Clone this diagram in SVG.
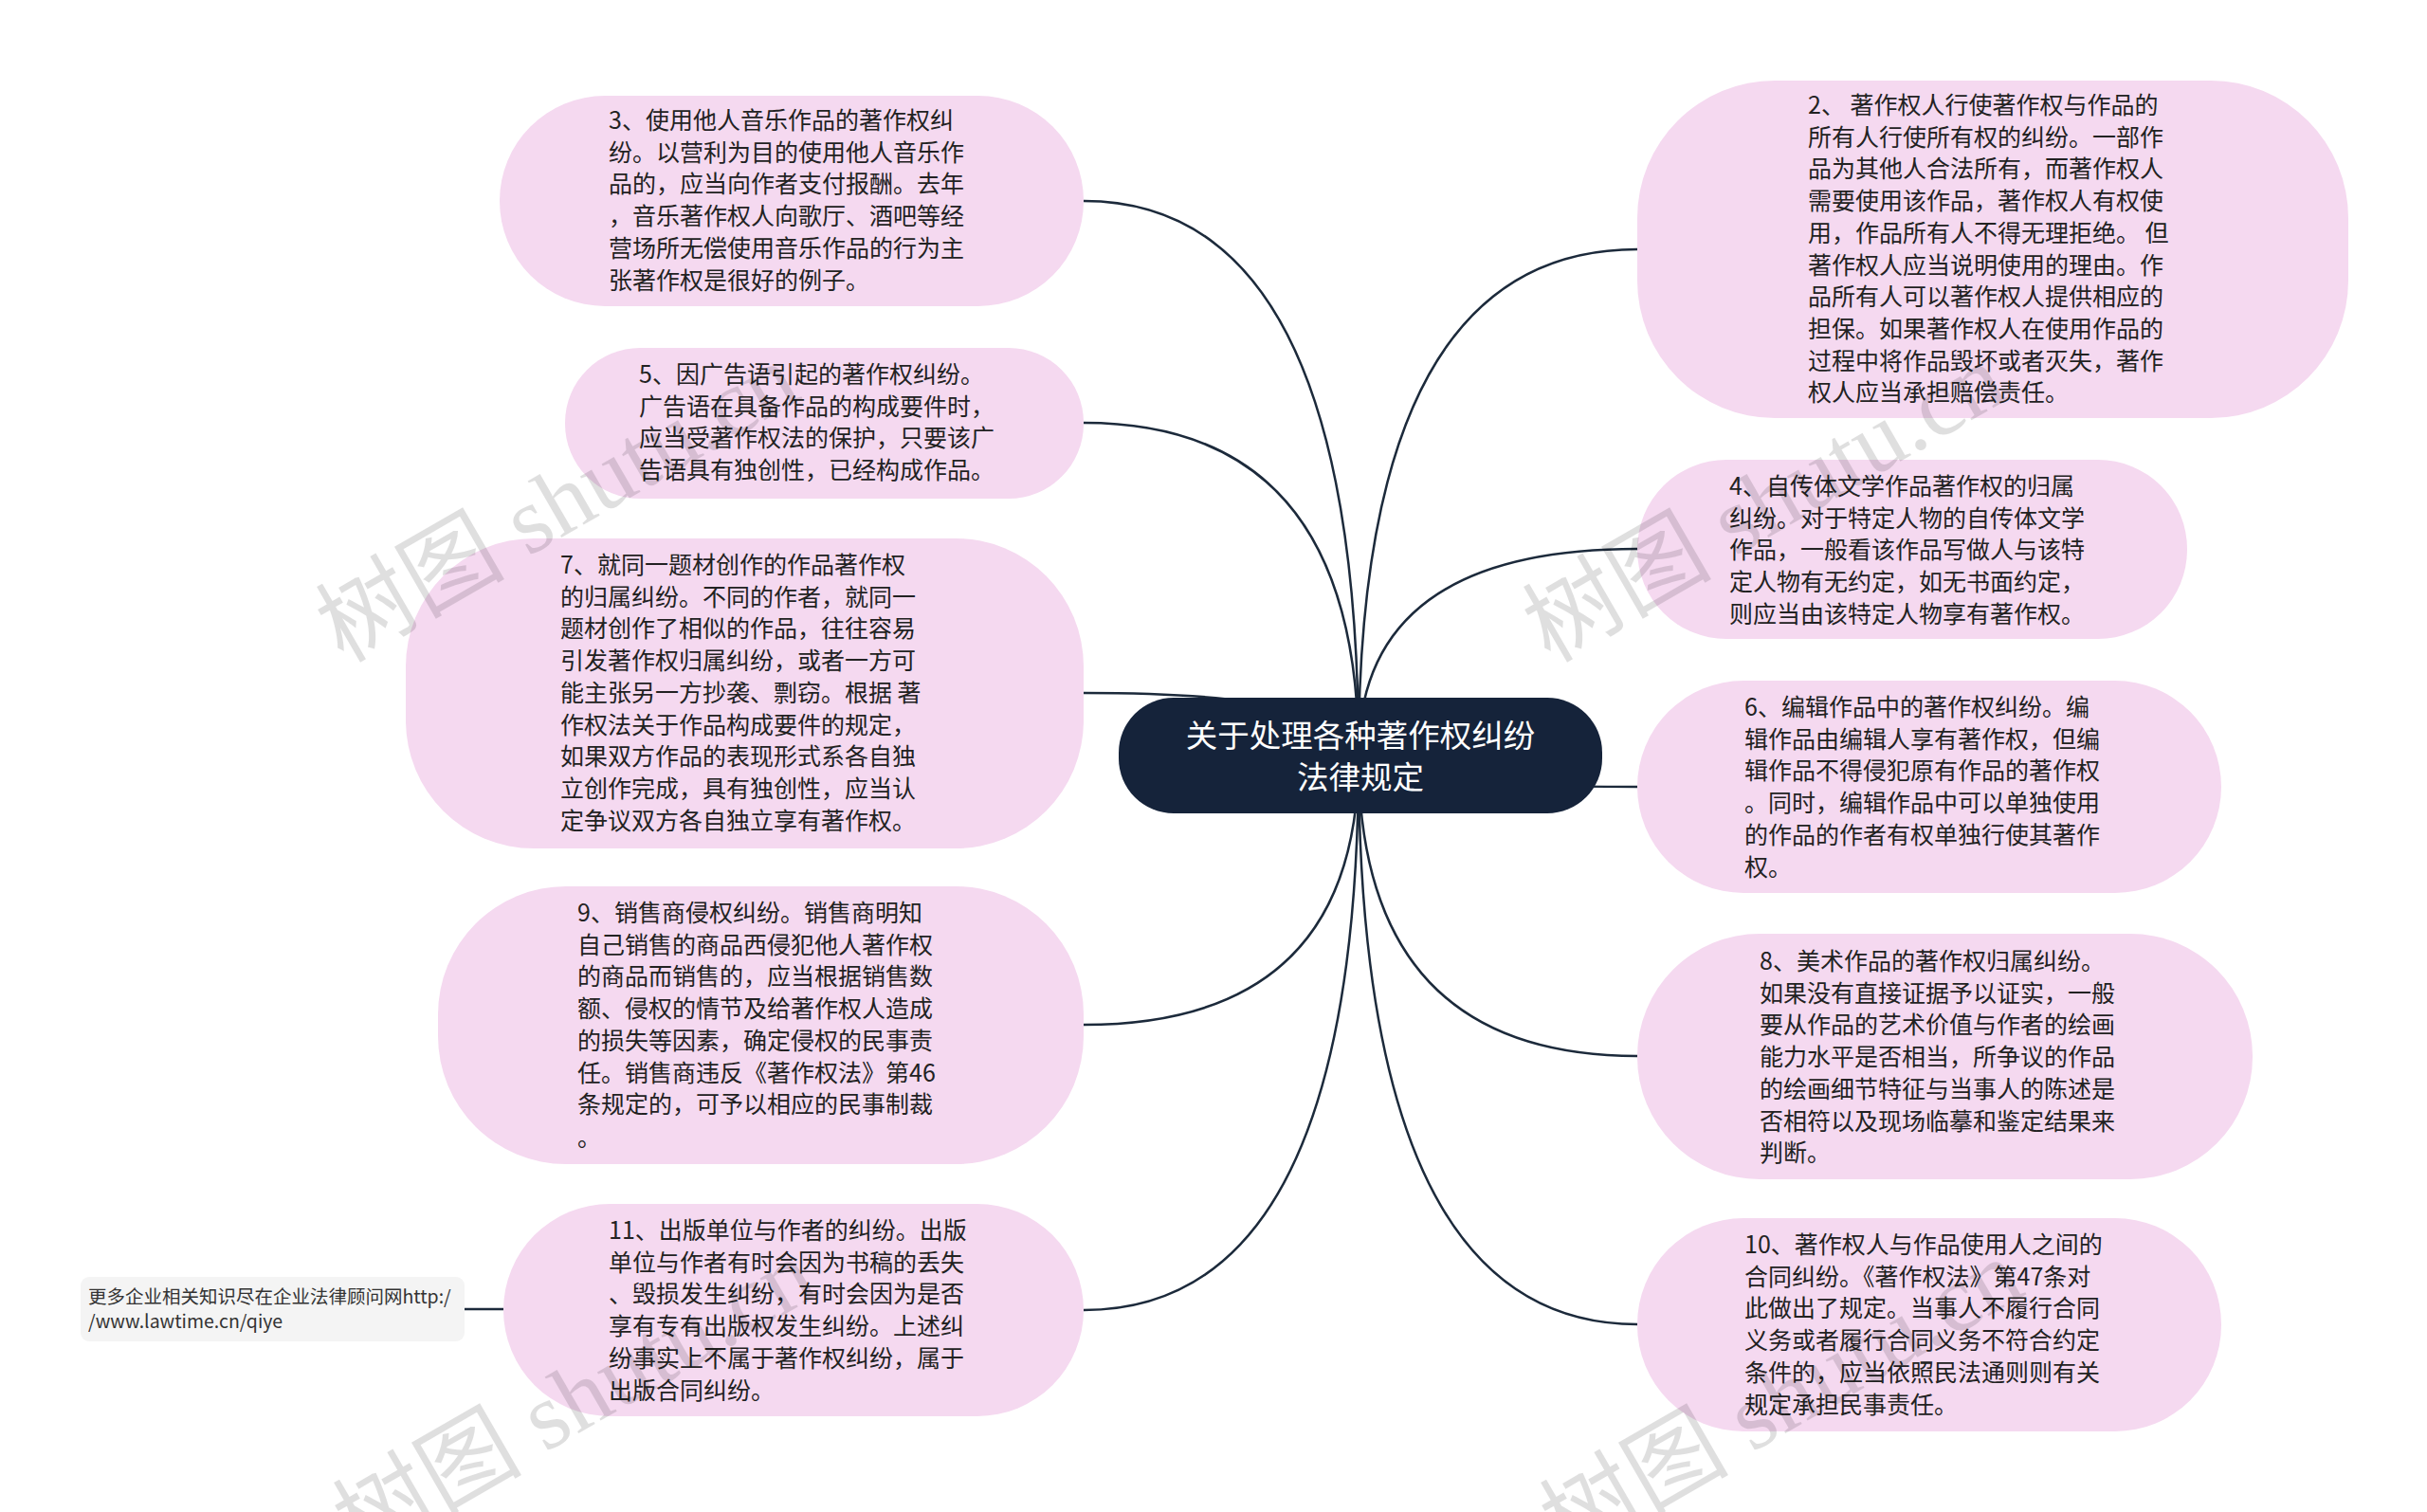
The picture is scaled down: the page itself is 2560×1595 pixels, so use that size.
<svg xmlns="http://www.w3.org/2000/svg" width="2560" height="1595" viewBox="0 0 2560 1595">
<style>
.pill{fill:#f5d9f0;}
.t{font-family:"Noto Sans CJK SC","Noto Sans",sans-serif;font-size:25px;fill:#222;}
.c{fill:none;stroke:#1c2a3b;stroke-width:2.5;}
.wm{font-family:"Liberation Serif","Noto Sans CJK SC",serif;font-size:100px;fill:#000;opacity:0.12;}
</style>
<rect width="2560" height="1595" fill="#fff"/>
<g id="connectors">
<path class="c" d="M1433 797 Q1433 212 1143 212"/>
<path class="c" d="M1433 797 Q1433 446 1143 446"/>
<path class="c" d="M1433 797 Q1433 731 1143 731"/>
<path class="c" d="M1433 797 Q1433 1081 1143 1081"/>
<path class="c" d="M1433 797 Q1433 1382 1143 1382"/>
<path class="c" d="M1433 797 Q1433 263 1727 263"/>
<path class="c" d="M1433 797 Q1433 579 1727 579"/>
<path class="c" d="M1433 797 Q1433 830 1727 830"/>
<path class="c" d="M1433 797 Q1433 1114 1727 1114"/>
<path class="c" d="M1433 797 Q1433 1397 1727 1397"/>
<path class="c" d="M490 1381 L531 1381"/>
</g>
<g id="center">
<rect x="1180" y="736" width="510" height="122" rx="58" fill="#15233a"/>
<text x="1435" y="788" text-anchor="middle" font-family="Noto Sans CJK SC,sans-serif" font-size="33.5" fill="#fff">关于处理各种著作权纠纷</text>
<text x="1435" y="832" text-anchor="middle" font-family="Noto Sans CJK SC,sans-serif" font-size="33.5" fill="#fff">法律规定</text>
</g>
<g id="n3">
<rect class="pill" x="527" y="101" width="616" height="222" rx="111"/>
<text class="t"><tspan x="642" y="136">3、使用他人音乐作品的著作权纠</tspan><tspan x="642" y="169.7">纷。以营利为目的使用他人音乐作</tspan><tspan x="642" y="203.4">品的，应当向作者支付报酬。去年</tspan><tspan x="642" y="237.1">，音乐著作权人向歌厅、酒吧等经</tspan><tspan x="642" y="270.8">营场所无偿使用音乐作品的行为主</tspan><tspan x="642" y="304.5">张著作权是很好的例子。</tspan></text>
</g>
<g id="n5">
<rect class="pill" x="596" y="367" width="547" height="159" rx="79"/>
<text class="t"><tspan x="674" y="404">5、因广告语引起的著作权纠纷。</tspan><tspan x="674" y="437.7">广告语在具备作品的构成要件时，</tspan><tspan x="674" y="471.4">应当受著作权法的保护，只要该广</tspan><tspan x="674" y="505.1">告语具有独创性，已经构成作品。</tspan></text>
</g>
<g id="n7">
<rect class="pill" x="428" y="568" width="715" height="327" rx="135"/>
<text class="t"><tspan x="591" y="605">7、就同一题材创作的作品著作权</tspan><tspan x="591" y="638.7">的归属纠纷。不同的作者，就同一</tspan><tspan x="591" y="672.4">题材创作了相似的作品，往往容易</tspan><tspan x="591" y="706.1">引发著作权归属纠纷，或者一方可</tspan><tspan x="591" y="739.8">能主张另一方抄袭、剽窃。根据 著</tspan><tspan x="591" y="773.5">作权法关于作品构成要件的规定，</tspan><tspan x="591" y="807.2">如果双方作品的表现形式系各自独</tspan><tspan x="591" y="840.9">立创作完成，具有独创性，应当认</tspan><tspan x="591" y="874.6">定争议双方各自独立享有著作权。</tspan></text>
</g>
<g id="n9">
<rect class="pill" x="462" y="935" width="681" height="293" rx="135"/>
<text class="t"><tspan x="609" y="972">9、销售商侵权纠纷。销售商明知</tspan><tspan x="609" y="1005.7">自己销售的商品西侵犯他人著作权</tspan><tspan x="609" y="1039.4">的商品而销售的，应当根据销售数</tspan><tspan x="609" y="1073.1">额、侵权的情节及给著作权人造成</tspan><tspan x="609" y="1106.8">的损失等因素，确定侵权的民事责</tspan><tspan x="609" y="1140.5">任。销售商违反《著作权法》第46</tspan><tspan x="609" y="1174.2">条规定的，可予以相应的民事制裁</tspan><tspan x="609" y="1209">。</tspan></text>
</g>
<g id="n11">
<rect class="pill" x="531" y="1270" width="612" height="224" rx="112"/>
<text class="t"><tspan x="642" y="1307">11、出版单位与作者的纠纷。出版</tspan><tspan x="642" y="1340.7">单位与作者有时会因为书稿的丢失</tspan><tspan x="642" y="1374.4">、毁损发生纠纷，有时会因为是否</tspan><tspan x="642" y="1408.1">享有专有出版权发生纠纷。上述纠</tspan><tspan x="642" y="1441.8">纷事实上不属于著作权纠纷，属于</tspan><tspan x="642" y="1475.5">出版合同纠纷。</tspan></text>
</g>
<g id="footer">
<rect x="85" y="1347" width="405" height="68" rx="9" fill="#f4f4f4"/>
<text font-family="Noto Sans CJK SC,sans-serif" font-size="19.5" fill="#333"><tspan x="93" y="1375">更多企业相关知识尽在企业法律顾问网http:/</tspan><tspan x="93" y="1401">/www.lawtime.cn/qiye</tspan></text>
</g>
<g id="n2">
<rect class="pill" x="1727" y="85" width="750" height="356" rx="145"/>
<text class="t"><tspan x="1907" y="120">2、 著作权人行使著作权与作品的</tspan><tspan x="1907" y="153.7">所有人行使所有权的纠纷。一部作</tspan><tspan x="1907" y="187.4">品为其他人合法所有，而著作权人</tspan><tspan x="1907" y="221.1">需要使用该作品，著作权人有权使</tspan><tspan x="1907" y="254.8">用，作品所有人不得无理拒绝。 但</tspan><tspan x="1907" y="288.5">著作权人应当说明使用的理由。作</tspan><tspan x="1907" y="322.2">品所有人可以著作权人提供相应的</tspan><tspan x="1907" y="355.9">担保。如果著作权人在使用作品的</tspan><tspan x="1907" y="389.6">过程中将作品毁坏或者灭失，著作</tspan><tspan x="1907" y="423.3">权人应当承担赔偿责任。</tspan></text>
</g>
<g id="n4">
<rect class="pill" x="1727" y="485" width="580" height="189" rx="94"/>
<text class="t"><tspan x="1824" y="522">4、自传体文学作品著作权的归属</tspan><tspan x="1824" y="555.7">纠纷。对于特定人物的自传体文学</tspan><tspan x="1824" y="589.4">作品，一般看该作品写做人与该特</tspan><tspan x="1824" y="623.1">定人物有无约定，如无书面约定，</tspan><tspan x="1824" y="656.8">则应当由该特定人物享有著作权。</tspan></text>
</g>
<g id="n6">
<rect class="pill" x="1727" y="718" width="616" height="224" rx="112"/>
<text class="t"><tspan x="1840" y="755">6、编辑作品中的著作权纠纷。编</tspan><tspan x="1840" y="788.7">辑作品由编辑人享有著作权，但编</tspan><tspan x="1840" y="822.4">辑作品不得侵犯原有作品的著作权</tspan><tspan x="1840" y="856.1">。同时，编辑作品中可以单独使用</tspan><tspan x="1840" y="889.8">的作品的作者有权单独行使其著作</tspan><tspan x="1840" y="923.5">权。</tspan></text>
</g>
<g id="n8">
<rect class="pill" x="1727" y="985" width="649" height="259" rx="129"/>
<text class="t"><tspan x="1856" y="1023">8、美术作品的著作权归属纠纷。</tspan><tspan x="1856" y="1056.7">如果没有直接证据予以证实，一般</tspan><tspan x="1856" y="1090.4">要从作品的艺术价值与作者的绘画</tspan><tspan x="1856" y="1124.1">能力水平是否相当，所争议的作品</tspan><tspan x="1856" y="1157.8">的绘画细节特征与当事人的陈述是</tspan><tspan x="1856" y="1191.5">否相符以及现场临摹和鉴定结果来</tspan><tspan x="1856" y="1225.2">判断。</tspan></text>
</g>
<g id="n10">
<rect class="pill" x="1727" y="1285" width="616" height="225" rx="112"/>
<text class="t"><tspan x="1840" y="1322">10、著作权人与作品使用人之间的</tspan><tspan x="1840" y="1355.7">合同纠纷。《著作权法》第47条对</tspan><tspan x="1840" y="1389.4">此做出了规定。当事人不履行合同</tspan><tspan x="1840" y="1423.1">义务或者履行合同义务不符合约定</tspan><tspan x="1840" y="1456.8">条件的，应当依照民法通则则有关</tspan><tspan x="1840" y="1490.5">规定承担民事责任。</tspan></text>
</g>
<g id="watermarks">
<text class="wm" transform="translate(362,700) rotate(-30)">树图 shutu.cn</text>
<text class="wm" transform="translate(1635,700) rotate(-30)">树图 shutu.cn</text>
<text class="wm" transform="translate(380,1645) rotate(-30)">树图 shutu.cn</text>
<text class="wm" transform="translate(1653,1645) rotate(-30)">树图 shutu.cn</text>
</g>
</svg>
